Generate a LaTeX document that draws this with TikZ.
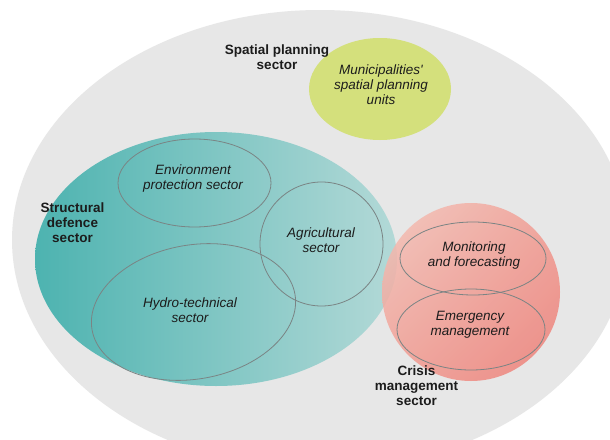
\documentclass[tikz,border=0pt]{standalone}
\usepackage{fontspec}
% plain font family: keeps the straight apostrophe as typed
\newfontfamily\labelfont{Liberation Sans}
\usetikzlibrary{shadings}
\definecolor{outergrey}{HTML}{E7E7E7}
\definecolor{limegreen}{HTML}{D4E07C}
\definecolor{tealdark}{HTML}{4DB3B0}
\definecolor{teallight}{HTML}{B3D9D7}
\definecolor{redlight}{HTML}{F4C3B9}
\definecolor{redmid}{HTML}{F19C92}
\definecolor{reddark}{HTML}{EE7B74}
\definecolor{rimgrey}{HTML}{7A8484}
\definecolor{inkblack}{HTML}{1C1C1C}
\begin{document}
\begin{tikzpicture}[x=1pt,y=-1pt,
  sectorlabel/.style={font=\labelfont\fontsize{13.5}{15}\selectfont\bfseries, align=center, inner sep=0pt, text=inkblack},
  unitlabel/.style={font=\labelfont\fontsize{13.5}{15}\selectfont\itshape, align=center, inner sep=0pt, text=inkblack},
  rim/.style={draw=rimgrey, line width=0.8pt},
]
\useasboundingbox (0,0) rectangle (610,439);
\fill[white] (0,0) rectangle (610,439);

% outer field holding all sectors
\begin{scope}
  \clip (0,0) rectangle (610,439);
  \fill[outergrey] (320,240) ellipse [x radius=308, y radius=230];
\end{scope}

% spatial planning
\fill[limegreen] (380,89) ellipse [x radius=71, y radius=51];

% structural defence
\shade[left color=tealdark, right color=teallight] (216,259) ellipse [x radius=181, y radius=127];
\draw[rim] (194.5,183) ellipse [x radius=76.5, y radius=44];
\draw[rim] (321.5,244) ellipse [x radius=61.5, y radius=62];
\draw[rim, rotate around={10:(193.5,312)}] (193.5,312) ellipse [x radius=103, y radius=67];

% crisis management
\shade[upper left=redlight, upper right=redmid, lower left=redmid, lower right=reddark, fill opacity=0.85] (471,292) circle [radius=89];
\draw[rim] (473,258.5) ellipse [x radius=73, y radius=36.5];
\draw[rim] (471,329.5) ellipse [x radius=74, y radius=40.5];

% labels
\node[sectorlabel] (spatial) at (277,57.5) {Spatial planning\\sector};
\node[unitlabel] (municip) at (381,84.5) {Municipalities'\\spatial planning\\units};
\node[sectorlabel] (structural) at (72.5,223) {Structural\\defence\\sector};
\node[unitlabel] (environ) at (193,179) {Environment\\protection sector};
\node[unitlabel] (agri) at (321,240.5) {Agricultural\\sector};
\node[unitlabel] (hydro) at (190,310) {Hydro-technical\\sector};
\node[unitlabel] (monitor) at (474,256) {Monitoring\\and forecasting};
\node[unitlabel] (emerg) at (470,325) {Emergency\\management};
\node[sectorlabel] (crisis) at (416.5,386) {Crisis\\management\\sector};
\end{tikzpicture}
\end{document}
